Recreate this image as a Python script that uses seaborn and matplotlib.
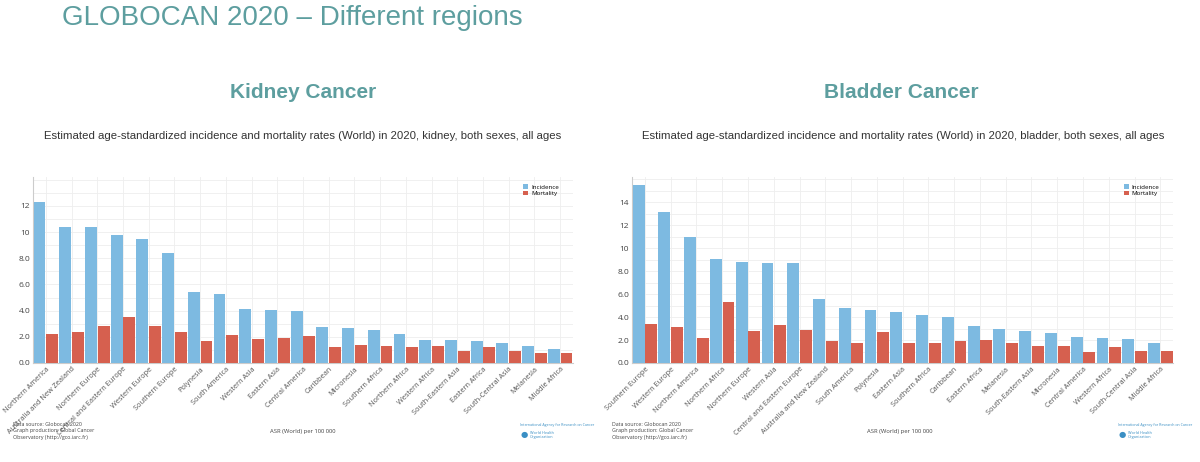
import pandas as pd
import matplotlib.pyplot as plt
import seaborn as sns
from matplotlib.ticker import MultipleLocator

# kidney
kidney_regions = ["Northern America", "Australia and New Zealand", "Northern Europe",
                  "Central and Eastern Europe", "Western Europe", "Southern Europe",
                  "Polynesia", "South America", "Western Asia", "Eastern Asia",
                  "Central America", "Caribbean", "Micronesia", "Southern Africa",
                  "Northern Africa", "Western Africa", "South-Eastern Asia",
                  "Eastern Africa", "South-Central Asia", "Melanesia", "Middle Africa"]
kidney_inc = [12.3, 10.4, 10.35, 9.8, 9.5, 8.4, 5.4, 5.3, 4.15, 4.05, 4.0,
              2.75, 2.65, 2.55, 2.2, 1.75, 1.75, 1.65, 1.5, 1.3, 1.1]
kidney_mort = [2.2, 2.35, 2.8, 3.5, 2.85, 2.4, 1.65, 2.1, 1.85, 1.9, 2.05,
               1.25, 1.4, 1.3, 1.2, 1.3, 0.95, 1.25, 0.9, 0.8, 0.8]

# bladder
bladder_regions = ["Southern Europe", "Western Europe", "Northern America", "Northern Africa",
                   "Northern Europe", "Western Asia", "Central and Eastern Europe",
                   "Australia and New Zealand", "South America", "Polynesia", "Eastern Asia",
                   "Southern Africa", "Caribbean", "Eastern Africa", "Melanesia",
                   "South-Eastern Asia", "Micronesia", "Central America", "Western Africa",
                   "South-Central Asia", "Middle Africa"]
bladder_inc = [15.5, 13.15, 11.0, 9.05, 8.8, 8.75, 8.7, 5.6, 4.75, 4.6, 4.45,
               4.2, 4.0, 3.25, 2.95, 2.75, 2.6, 2.3, 2.15, 2.05, 1.75]
bladder_mort = [3.4, 3.1, 2.2, 5.3, 2.8, 3.3, 2.9, 1.9, 1.7, 2.7, 1.75,
                1.7, 1.9, 2.0, 1.7, 1.5, 1.45, 0.95, 1.35, 1.05, 1.05]

teal = "#5d9e9f"
blue = "#7dbae1"
red = "#d6604f"
grey = "#555555"

plt.rcParams['font.family'] = ['Open Sans', 'DejaVu Sans']

fig = plt.figure(figsize=(12, 4.62), dpi=100)


def make_df(regions, inc, mort):
    return pd.DataFrame({
        "region": regions * 2,
        "rate": inc + mort,
        "type": ["Incidence"] * len(regions) + ["Mortality"] * len(regions),
    })


def draw(ax, regions, inc, mort, ymax, ticks):
    df = make_df(regions, inc, mort)
    sns.barplot(data=df, x="region", y="rate", hue="type", order=regions,
                palette=[blue, red], width=0.98, gap=0.06, ax=ax,
                saturation=1, linewidth=0, zorder=3)
    ax.set_xlim(-0.5, len(regions) - 0.5)
    ax.set_ylim(0, ymax)
    ax.set_yticks(ticks)
    ax.set_yticklabels([f"{t:.1f}" if t < 10 else f"{t:.0f}" for t in ticks],
                       fontsize=6, color="#444444")
    ax.yaxis.set_minor_locator(MultipleLocator(1))
    ax.grid(True, which="both", color="#eeeeee", linewidth=0.6, zorder=0)
    ax.set_axisbelow(True)
    ax.tick_params(axis="both", which="both", length=0, pad=2)
    ax.set_xticks(range(len(regions)))
    ax.set_xticklabels(regions, rotation=45, ha="right", rotation_mode="anchor",
                       fontsize=5.3, color=grey)
    ax.set_xlabel("")
    ax.set_ylabel("")
    for s in ["top", "right"]:
        ax.spines[s].set_visible(False)
    ax.spines["left"].set_color("#cccccc")
    ax.spines["bottom"].set_color("#cccccc")
    ax.legend(loc="upper right", bbox_to_anchor=(0.985, 0.99), frameon=False,
              fontsize=4.5, handlelength=0.8, handleheight=0.8, handletextpad=0.5,
              labelspacing=0.1)


ax1 = fig.add_axes([0.0275, 0.2143, 0.45, 0.4026])
draw(ax1, kidney_regions, kidney_inc, kidney_mort, 14.2, [0, 2, 4, 6, 8, 10, 12])

ax2 = fig.add_axes([0.5267, 0.2143, 0.451, 0.4026])
draw(ax2, bladder_regions, bladder_inc, bladder_mort, 16.2, [0, 2, 4, 6, 8, 10, 12, 14])

# headings
fig.text(62 / 1200, 1 - 18 / 462, "GLOBOCAN 2020 – Different regions", fontsize=20,
         color=teal, family="Liberation Sans", ha="left", va="center")
fig.text(303 / 1200, 1 - 92 / 462, "Kidney Cancer", fontsize=15, fontweight="bold",
         color=teal, family="Liberation Sans", ha="center", va="center")
fig.text(901 / 1200, 1 - 92 / 462, "Bladder Cancer", fontsize=15, fontweight="bold",
         color=teal, family="Liberation Sans", ha="center", va="center")
fig.text(303 / 1200, 1 - 136 / 462,
         "Estimated age-standardized incidence and mortality rates (World) in 2020, kidney, both sexes, all ages",
         fontsize=8.2, color="#333333", family="Liberation Sans", ha="center", va="center")
fig.text(903 / 1200, 1 - 136 / 462,
         "Estimated age-standardized incidence and mortality rates (World) in 2020, bladder, both sexes, all ages",
         fontsize=8.2, color="#333333", family="Liberation Sans", ha="center", va="center")

# footers
for x0, xc, xi in [(13, 303, 520), (612, 900, 1118)]:
    fig.text(x0 / 1200, 1 - 422 / 462,
             "Data source: Globocan 2020\nGraph production: Global Cancer\nObservatory (http://gco.iarc.fr)",
             fontsize=3.8, color="#444444", ha="left", va="top", linespacing=1.35)
    fig.text(xc / 1200, 1 - 431 / 462, "ASR (World) per 100 000", fontsize=4.2,
             color="#444444", ha="center", va="center")
    fig.text(xi / 1200, 1 - 425 / 462, "International Agency for Research on Cancer",
             fontsize=2.6, color="#3a8fc4", ha="left", va="center")
    fig.text((xi + 10) / 1200, 1 - 435 / 462, "World Health\nOrganization",
             fontsize=2.8, color="#3a8fc4", ha="left", va="center", linespacing=1.0)
    fig.text((xi + 4) / 1200, 1 - 435 / 462, "●", fontsize=6, color="#3a8fc4",
             ha="center", va="center")

fig.savefig("out.png", dpi=100, facecolor="white")
